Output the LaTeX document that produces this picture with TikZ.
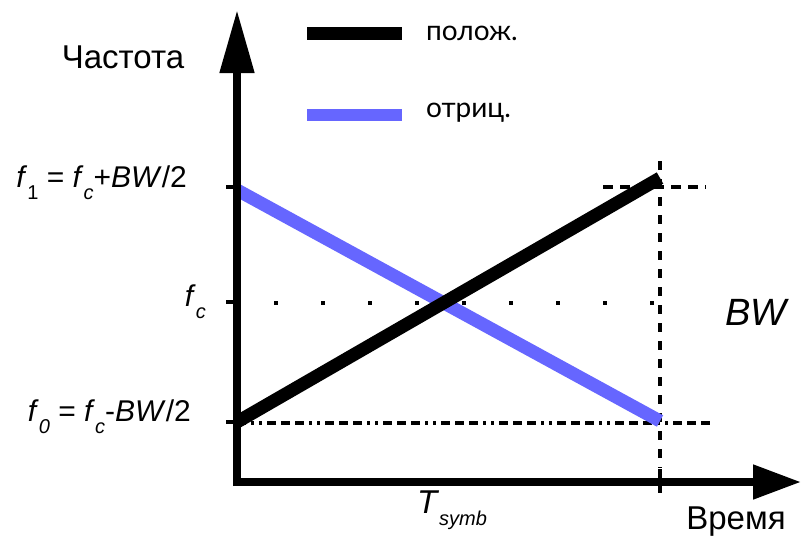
\documentclass[tikz,border=0pt]{standalone}
\usepackage{fontspec}
\setmainfont{Liberation Sans}
\newfontfamily\legendfont{Lato}
\usepackage{xcolor}
\usepackage{tikz}
\usetikzlibrary{positioning, arrows.meta, calc}
\definecolor{chirpblue}{HTML}{6666FF}

\tikzset{
    axisline/.style={line width=8pt, -{Triangle[length=#1, width=33pt]}},
    guideline/.style={line width=3.5pt, black},
    chirpline/.style={line width=13pt},
    lbl/.style={inner sep=0pt, font=\fontsize{33}{38}\selectfont},
    freqlbl/.style={inner sep=0pt, anchor=east, font=\fontsize{30}{34}\selectfont},
    leglbl/.style={inner sep=0pt, anchor=west, font=\legendfont\fontsize{28}{32}\selectfont}
}

\newcommand{\subs}[1]{\raisebox{-12pt}{\fontsize{20}{22}\selectfont #1}}

\begin{document}
\begin{tikzpicture}[x=1pt, y=-1pt]
    \useasboundingbox (0,0) rectangle (806,547);

    \coordinate (orig) at (237,482);
    \coordinate (ytop) at (237,10);
    \coordinate (xend) at (801,482);
    \coordinate (lowL) at (237,422);
    \coordinate (highL) at (237,190);
    \coordinate (lowR) at (660,421);
    \coordinate (highR) at (660,178);

    % guide lines
    \draw[guideline, dash pattern=on 10pt off 7pt] (603,187) coordinate (fa) -- (706,187) coordinate (fb);
    \draw[guideline, dash pattern=on 3.5pt off 43.5pt] (274,303) coordinate (ca) -- (660,303) coordinate (cb);
    \draw[guideline, dash pattern=on 9pt off 5pt on 3pt off 5pt on 3pt off 5pt on 9pt off 5pt on 9pt off 5pt]
        (lowL) ++(0,1) coordinate (za) -- (710,423) coordinate (zb);
    \draw[guideline, dash pattern=on 9pt off 9pt] (660,161) coordinate (va) -- (660,468) coordinate (vb);
    \draw[guideline] (660,469) -- (660,493);

    % chirps
    \draw[chirpline, chirpblue] (highL) -- (lowR);
    \draw[chirpline, black] (lowL) -- (highR);

    % axes
    \draw[axisline=63pt] (orig) ++(0,4) -- (ytop);
    \draw[axisline=48pt] (orig) ++(-4,0) -- (xend);
    \foreach \yy in {187,302,422}
        \draw[guideline] (226,\yy) -- (237,\yy);

    % legend
    \draw[line width=13pt, black] (307,33) coordinate (la) -- (402,33) coordinate (lb);
    \draw[line width=12pt, chirpblue] (307,115) coordinate (lc) -- (402,115) coordinate (ld);
    \node[leglbl] (pos) at (426,33) {полож.};
    \node[leglbl] (neg) at (426,113) {отриц.};

    % labels
    \node[lbl] (yname) at (123,57) {Частота};
    \node[freqlbl] (f1) at (187,183) {\textit{f}\subs{1} = \textit{f}\subs{\textit{c}}+\textit{BW}/2};
    \node[freqlbl] (fc) at (206,302) {\textit{f}\subs{\textit{c}}};
    \node[freqlbl] (f0) at (191,417) {\textit{f}\subs{\textit{0}} = \textit{f}\subs{\textit{c}}-\textit{BW}/2};
    \node[lbl, font=\fontsize{38}{42}\selectfont\itshape] (bw) at (756,312) {BW};
    \node[lbl] (ts) at (452,510) {\textit{T}\subs{\textit{symb}}};
    \node[lbl] (xname) at (736,522) {Время};
\end{tikzpicture}
\end{document}
